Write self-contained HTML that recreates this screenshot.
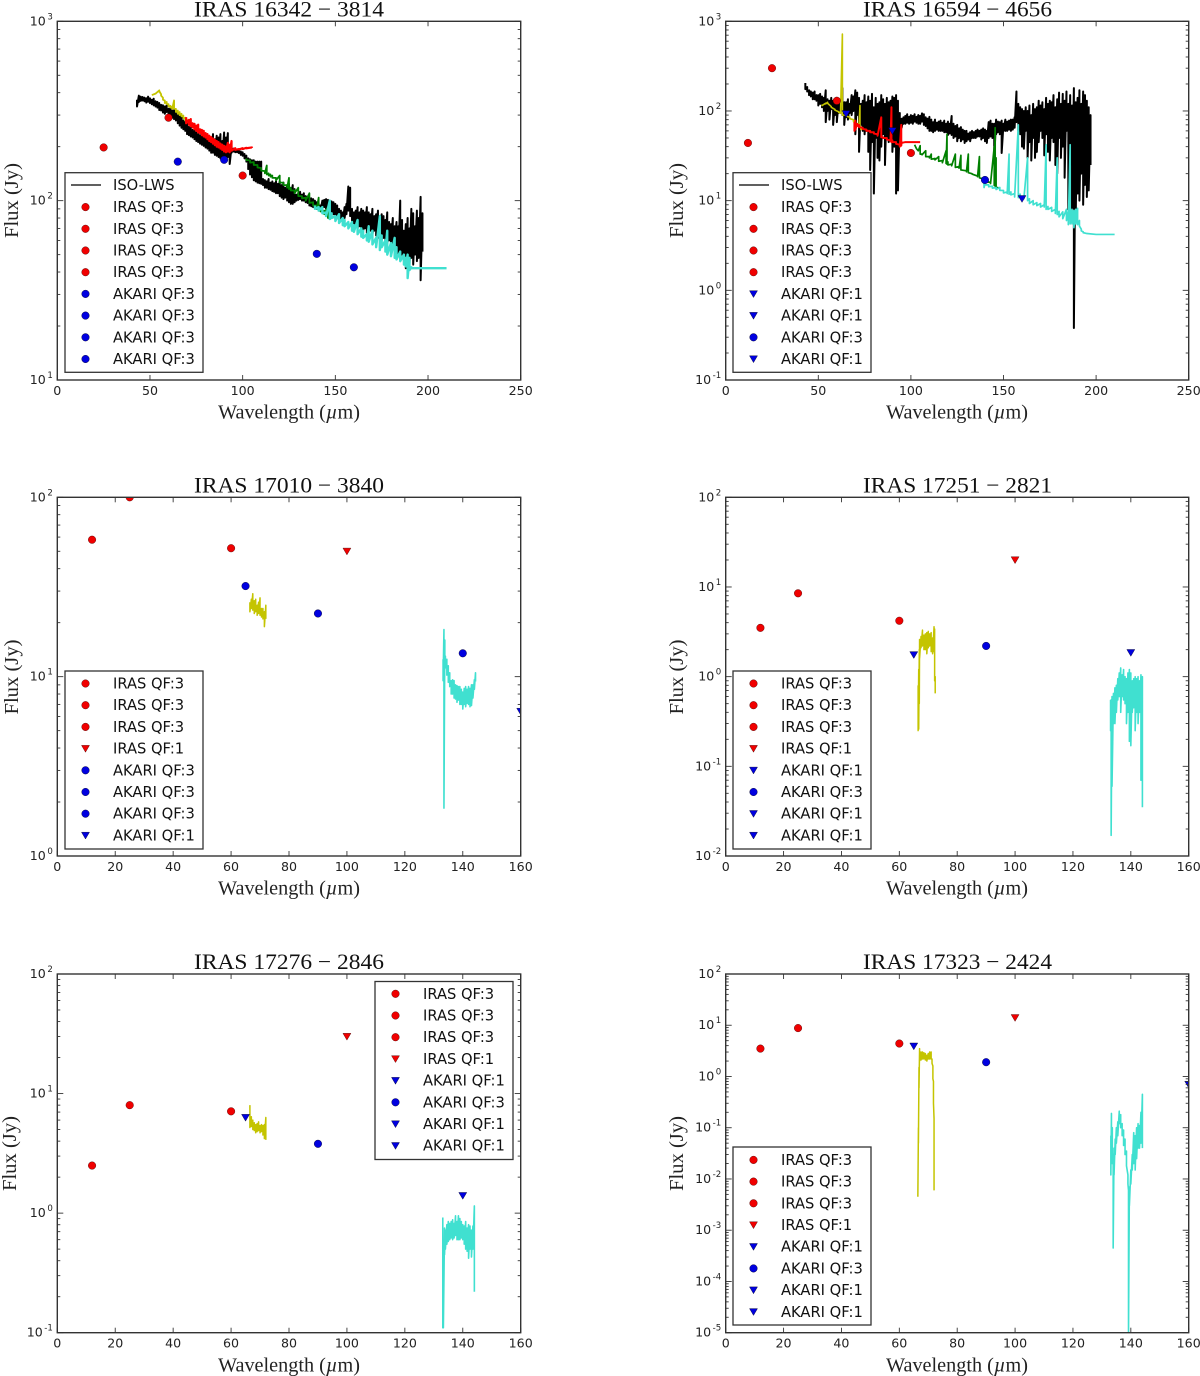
<!DOCTYPE html>
<html lang="en">
<head>
<meta charset="utf-8">
<title>IRAS far-infrared spectra</title>
<style>
html,body{margin:0;padding:0;background:#fff;}
svg{display:block;}
.title{font-family:"Liberation Serif",serif;font-size:22px;fill:#111;text-anchor:middle;}
.axis-title{font-family:"Liberation Serif",serif;font-size:19.5px;fill:#222;text-anchor:middle;}
.tick-label{font-family:"DejaVu Sans",sans-serif;font-size:12.6px;fill:#222;}
.legend-text{font-family:"DejaVu Sans",sans-serif;font-size:14.7px;fill:#111;}
.legend-box{fill:#fff;stroke:#333;stroke-width:1.3;}
.frame{fill:none;stroke:#333;stroke-width:1.4;}
.red{fill:#f00000;stroke:#400;stroke-width:.4;}
.blue{fill:#0000e0;stroke:#002;stroke-width:.4;}
</style>
</head>
<body>
<svg id="figure" xmlns="http://www.w3.org/2000/svg" width="1200" height="1376" viewBox="0 0 1200 1376">
<defs>
<clipPath id="clip-p1"><rect x="57.3" y="21.3" width="463.4" height="358.7"/></clipPath>
<clipPath id="clip-p2"><rect x="725.7" y="21.3" width="463" height="358.7"/></clipPath>
<clipPath id="clip-p3"><rect x="57.3" y="497.3" width="463.4" height="358.7"/></clipPath>
<clipPath id="clip-p4"><rect x="725.7" y="497.3" width="463" height="358.7"/></clipPath>
<clipPath id="clip-p5"><rect x="57.3" y="974" width="463.4" height="358.7"/></clipPath>
<clipPath id="clip-p6"><rect x="725.7" y="974" width="463" height="358.7"/></clipPath>
</defs>

<!-- PANEL 1 -->
<g id="p1">
<g id="p1-plot" clip-path="url(#clip-p1)"></g>
<rect class="frame" x="57.3" y="21.3" width="463.4" height="358.7"/>
<g id="p1-axes"></g>
<text class="title" x="289" y="16.5" textLength="190" lengthAdjust="spacingAndGlyphs">IRAS 16342 − 3814</text>
<text class="axis-title" x="289" y="418.5" textLength="142" lengthAdjust="spacingAndGlyphs">Wavelength (<tspan font-style="italic">µ</tspan>m)</text>
<text class="axis-title" transform="translate(18,200.5) rotate(-90)" textLength="75" lengthAdjust="spacingAndGlyphs">Flux (Jy)</text>
<g transform="translate(65,172.7)">
<rect class="legend-box" x="0" y="0" width="138" height="199.6"/>
<g transform="translate(0,12.3)"><line x1="6" x2="36" y1="0" y2="0" stroke="#000" stroke-width="1.2"/><text class="legend-text" x="48" y="5">ISO-LWS</text></g>
<g transform="translate(0,34.4)"><circle class="red" cx="20.5" cy="0" r="3.8"/><text class="legend-text" x="48" y="5">IRAS QF:3</text></g>
<g transform="translate(0,56.1)"><circle class="red" cx="20.5" cy="0" r="3.8"/><text class="legend-text" x="48" y="5">IRAS QF:3</text></g>
<g transform="translate(0,77.8)"><circle class="red" cx="20.5" cy="0" r="3.8"/><text class="legend-text" x="48" y="5">IRAS QF:3</text></g>
<g transform="translate(0,99.5)"><circle class="red" cx="20.5" cy="0" r="3.8"/><text class="legend-text" x="48" y="5">IRAS QF:3</text></g>
<g transform="translate(0,121.2)"><circle class="blue" cx="20.5" cy="0" r="3.8"/><text class="legend-text" x="48" y="5">AKARI QF:3</text></g>
<g transform="translate(0,142.9)"><circle class="blue" cx="20.5" cy="0" r="3.8"/><text class="legend-text" x="48" y="5">AKARI QF:3</text></g>
<g transform="translate(0,164.6)"><circle class="blue" cx="20.5" cy="0" r="3.8"/><text class="legend-text" x="48" y="5">AKARI QF:3</text></g>
<g transform="translate(0,186.3)"><circle class="blue" cx="20.5" cy="0" r="3.8"/><text class="legend-text" x="48" y="5">AKARI QF:3</text></g>
</g>
</g>

<!-- PANEL 2 -->
<g id="p2">
<g id="p2-plot" clip-path="url(#clip-p2)"></g>
<rect class="frame" x="725.7" y="21.3" width="463" height="358.7"/>
<g id="p2-axes"></g>
<text class="title" x="957.5" y="16.5" textLength="189" lengthAdjust="spacingAndGlyphs">IRAS 16594 − 4656</text>
<text class="axis-title" x="957" y="418.5" textLength="142" lengthAdjust="spacingAndGlyphs">Wavelength (<tspan font-style="italic">µ</tspan>m)</text>
<text class="axis-title" transform="translate(683,200.5) rotate(-90)" textLength="75" lengthAdjust="spacingAndGlyphs">Flux (Jy)</text>
<g transform="translate(733,172.7)">
<rect class="legend-box" x="0" y="0" width="138" height="199.6"/>
<g transform="translate(0,12.3)"><line x1="6" x2="36" y1="0" y2="0" stroke="#000" stroke-width="1.2"/><text class="legend-text" x="48" y="5">ISO-LWS</text></g>
<g transform="translate(0,34.4)"><circle class="red" cx="20.5" cy="0" r="3.8"/><text class="legend-text" x="48" y="5">IRAS QF:3</text></g>
<g transform="translate(0,56.1)"><circle class="red" cx="20.5" cy="0" r="3.8"/><text class="legend-text" x="48" y="5">IRAS QF:3</text></g>
<g transform="translate(0,77.8)"><circle class="red" cx="20.5" cy="0" r="3.8"/><text class="legend-text" x="48" y="5">IRAS QF:3</text></g>
<g transform="translate(0,99.5)"><circle class="red" cx="20.5" cy="0" r="3.8"/><text class="legend-text" x="48" y="5">IRAS QF:3</text></g>
<g transform="translate(0,121.2)"><polygon class="blue" points="16.5,-3.2 24.5,-3.2 20.5,3.6"/><text class="legend-text" x="48" y="5">AKARI QF:1</text></g>
<g transform="translate(0,142.9)"><polygon class="blue" points="16.5,-3.2 24.5,-3.2 20.5,3.6"/><text class="legend-text" x="48" y="5">AKARI QF:1</text></g>
<g transform="translate(0,164.6)"><circle class="blue" cx="20.5" cy="0" r="3.8"/><text class="legend-text" x="48" y="5">AKARI QF:3</text></g>
<g transform="translate(0,186.3)"><polygon class="blue" points="16.5,-3.2 24.5,-3.2 20.5,3.6"/><text class="legend-text" x="48" y="5">AKARI QF:1</text></g>
</g>
</g>

<!-- PANEL 3 -->
<g id="p3">
<g id="p3-plot" clip-path="url(#clip-p3)"></g>
<rect class="frame" x="57.3" y="497.3" width="463.4" height="358.7"/>
<g id="p3-axes"></g>
<text class="title" x="289" y="492.5" textLength="190" lengthAdjust="spacingAndGlyphs">IRAS 17010 − 3840</text>
<text class="axis-title" x="289" y="894.5" textLength="142" lengthAdjust="spacingAndGlyphs">Wavelength (<tspan font-style="italic">µ</tspan>m)</text>
<text class="axis-title" transform="translate(18,677) rotate(-90)" textLength="75" lengthAdjust="spacingAndGlyphs">Flux (Jy)</text>
<g transform="translate(65,671)">
<rect class="legend-box" x="0" y="0" width="138" height="178"/>
<g transform="translate(0,12.5)"><circle class="red" cx="20.5" cy="0" r="3.8"/><text class="legend-text" x="48" y="5">IRAS QF:3</text></g>
<g transform="translate(0,34.2)"><circle class="red" cx="20.5" cy="0" r="3.8"/><text class="legend-text" x="48" y="5">IRAS QF:3</text></g>
<g transform="translate(0,55.9)"><circle class="red" cx="20.5" cy="0" r="3.8"/><text class="legend-text" x="48" y="5">IRAS QF:3</text></g>
<g transform="translate(0,77.6)"><polygon class="red" points="16.5,-3.2 24.5,-3.2 20.5,3.6"/><text class="legend-text" x="48" y="5">IRAS QF:1</text></g>
<g transform="translate(0,99.3)"><circle class="blue" cx="20.5" cy="0" r="3.8"/><text class="legend-text" x="48" y="5">AKARI QF:3</text></g>
<g transform="translate(0,121)"><circle class="blue" cx="20.5" cy="0" r="3.8"/><text class="legend-text" x="48" y="5">AKARI QF:3</text></g>
<g transform="translate(0,142.7)"><circle class="blue" cx="20.5" cy="0" r="3.8"/><text class="legend-text" x="48" y="5">AKARI QF:3</text></g>
<g transform="translate(0,164.4)"><polygon class="blue" points="16.5,-3.2 24.5,-3.2 20.5,3.6"/><text class="legend-text" x="48" y="5">AKARI QF:1</text></g>
</g>
</g>

<!-- PANEL 4 -->
<g id="p4">
<g id="p4-plot" clip-path="url(#clip-p4)"></g>
<rect class="frame" x="725.7" y="497.3" width="463" height="358.7"/>
<g id="p4-axes"></g>
<text class="title" x="957.5" y="492.5" textLength="189" lengthAdjust="spacingAndGlyphs">IRAS 17251 − 2821</text>
<text class="axis-title" x="957" y="894.5" textLength="142" lengthAdjust="spacingAndGlyphs">Wavelength (<tspan font-style="italic">µ</tspan>m)</text>
<text class="axis-title" transform="translate(683,677) rotate(-90)" textLength="75" lengthAdjust="spacingAndGlyphs">Flux (Jy)</text>
<g transform="translate(733,671)">
<rect class="legend-box" x="0" y="0" width="138" height="178"/>
<g transform="translate(0,12.5)"><circle class="red" cx="20.5" cy="0" r="3.8"/><text class="legend-text" x="48" y="5">IRAS QF:3</text></g>
<g transform="translate(0,34.2)"><circle class="red" cx="20.5" cy="0" r="3.8"/><text class="legend-text" x="48" y="5">IRAS QF:3</text></g>
<g transform="translate(0,55.9)"><circle class="red" cx="20.5" cy="0" r="3.8"/><text class="legend-text" x="48" y="5">IRAS QF:3</text></g>
<g transform="translate(0,77.6)"><polygon class="red" points="16.5,-3.2 24.5,-3.2 20.5,3.6"/><text class="legend-text" x="48" y="5">IRAS QF:1</text></g>
<g transform="translate(0,99.3)"><polygon class="blue" points="16.5,-3.2 24.5,-3.2 20.5,3.6"/><text class="legend-text" x="48" y="5">AKARI QF:1</text></g>
<g transform="translate(0,121)"><circle class="blue" cx="20.5" cy="0" r="3.8"/><text class="legend-text" x="48" y="5">AKARI QF:3</text></g>
<g transform="translate(0,142.7)"><polygon class="blue" points="16.5,-3.2 24.5,-3.2 20.5,3.6"/><text class="legend-text" x="48" y="5">AKARI QF:1</text></g>
<g transform="translate(0,164.4)"><polygon class="blue" points="16.5,-3.2 24.5,-3.2 20.5,3.6"/><text class="legend-text" x="48" y="5">AKARI QF:1</text></g>
</g>
</g>

<!-- PANEL 5 -->
<g id="p5">
<g id="p5-plot" clip-path="url(#clip-p5)"></g>
<rect class="frame" x="57.3" y="974" width="463.4" height="358.7"/>
<g id="p5-axes"></g>
<text class="title" x="289" y="969" textLength="190" lengthAdjust="spacingAndGlyphs">IRAS 17276 − 2846</text>
<text class="axis-title" x="289" y="1371.5" textLength="142" lengthAdjust="spacingAndGlyphs">Wavelength (<tspan font-style="italic">µ</tspan>m)</text>
<text class="axis-title" transform="translate(16,1153.5) rotate(-90)" textLength="75" lengthAdjust="spacingAndGlyphs">Flux (Jy)</text>
<g transform="translate(375,981.5)">
<rect class="legend-box" x="0" y="0" width="138" height="178"/>
<g transform="translate(0,12.3)"><circle class="red" cx="20.5" cy="0" r="3.8"/><text class="legend-text" x="48" y="5">IRAS QF:3</text></g>
<g transform="translate(0,34)"><circle class="red" cx="20.5" cy="0" r="3.8"/><text class="legend-text" x="48" y="5">IRAS QF:3</text></g>
<g transform="translate(0,55.7)"><circle class="red" cx="20.5" cy="0" r="3.8"/><text class="legend-text" x="48" y="5">IRAS QF:3</text></g>
<g transform="translate(0,77.4)"><polygon class="red" points="16.5,-3.2 24.5,-3.2 20.5,3.6"/><text class="legend-text" x="48" y="5">IRAS QF:1</text></g>
<g transform="translate(0,99.1)"><polygon class="blue" points="16.5,-3.2 24.5,-3.2 20.5,3.6"/><text class="legend-text" x="48" y="5">AKARI QF:1</text></g>
<g transform="translate(0,120.8)"><circle class="blue" cx="20.5" cy="0" r="3.8"/><text class="legend-text" x="48" y="5">AKARI QF:3</text></g>
<g transform="translate(0,142.5)"><polygon class="blue" points="16.5,-3.2 24.5,-3.2 20.5,3.6"/><text class="legend-text" x="48" y="5">AKARI QF:1</text></g>
<g transform="translate(0,164.2)"><polygon class="blue" points="16.5,-3.2 24.5,-3.2 20.5,3.6"/><text class="legend-text" x="48" y="5">AKARI QF:1</text></g>
</g>
</g>

<!-- PANEL 6 -->
<g id="p6">
<g id="p6-plot" clip-path="url(#clip-p6)"></g>
<rect class="frame" x="725.7" y="974" width="463" height="358.7"/>
<g id="p6-axes"></g>
<text class="title" x="957.5" y="969" textLength="189" lengthAdjust="spacingAndGlyphs">IRAS 17323 − 2424</text>
<text class="axis-title" x="957" y="1371.5" textLength="142" lengthAdjust="spacingAndGlyphs">Wavelength (<tspan font-style="italic">µ</tspan>m)</text>
<text class="axis-title" transform="translate(683,1153.5) rotate(-90)" textLength="75" lengthAdjust="spacingAndGlyphs">Flux (Jy)</text>
<g transform="translate(733,1147)">
<rect class="legend-box" x="0" y="0" width="138" height="178"/>
<g transform="translate(0,12.9)"><circle class="red" cx="20.5" cy="0" r="3.8"/><text class="legend-text" x="48" y="5">IRAS QF:3</text></g>
<g transform="translate(0,34.6)"><circle class="red" cx="20.5" cy="0" r="3.8"/><text class="legend-text" x="48" y="5">IRAS QF:3</text></g>
<g transform="translate(0,56.3)"><circle class="red" cx="20.5" cy="0" r="3.8"/><text class="legend-text" x="48" y="5">IRAS QF:3</text></g>
<g transform="translate(0,78)"><polygon class="red" points="16.5,-3.2 24.5,-3.2 20.5,3.6"/><text class="legend-text" x="48" y="5">IRAS QF:1</text></g>
<g transform="translate(0,99.7)"><polygon class="blue" points="16.5,-3.2 24.5,-3.2 20.5,3.6"/><text class="legend-text" x="48" y="5">AKARI QF:1</text></g>
<g transform="translate(0,121.4)"><circle class="blue" cx="20.5" cy="0" r="3.8"/><text class="legend-text" x="48" y="5">AKARI QF:3</text></g>
<g transform="translate(0,143.1)"><polygon class="blue" points="16.5,-3.2 24.5,-3.2 20.5,3.6"/><text class="legend-text" x="48" y="5">AKARI QF:1</text></g>
<g transform="translate(0,164.8)"><polygon class="blue" points="16.5,-3.2 24.5,-3.2 20.5,3.6"/><text class="legend-text" x="48" y="5">AKARI QF:1</text></g>
</g>
</g>
</svg>

<script>
// ---------- tick values ----------
const wideXTicks = [0, 50, 100, 150, 200, 250];
const narrowXTicks = [0, 20, 40, 60, 80, 100, 120, 140, 160];
const p1YExponents = [1, 2, 3];
const p2YExponents = [-1, 0, 1, 2, 3];
const p3YExponents = [0, 1, 2];
const p4YExponents = [-2, -1, 0, 1, 2];
const p5YExponents = [-1, 0, 1, 2];
const p6YExponents = [-5, -4, -3, -2, -1, 0, 1, 2];

// ---------- photometry (band, wavelength, flux, quality flag) ----------
const p1PhotBand = ['IRAS', 'IRAS', 'IRAS', 'AKARI', 'AKARI', 'AKARI', 'AKARI'];
const p1PhotWave = [25, 60, 100, 65, 90, 140, 160];
const p1PhotFlux = [198, 290, 138, 165, 169, 50.5, 42.5];
const p1PhotQF = [3, 3, 3, 3, 3, 3, 3];

const p2PhotBand = ['IRAS', 'IRAS', 'IRAS', 'IRAS', 'AKARI', 'AKARI', 'AKARI', 'AKARI'];
const p2PhotWave = [12, 25, 60, 100, 65, 90, 140, 160];
const p2PhotFlux = [44, 300, 130, 34, 93, 60, 17, 10.5];
const p2PhotQF = [3, 3, 3, 3, 1, 1, 3, 1];

const p3PhotBand = ['IRAS', 'IRAS', 'IRAS', 'IRAS', 'AKARI', 'AKARI', 'AKARI', 'AKARI'];
const p3PhotWave = [12, 25, 60, 100, 65, 90, 140, 160];
const p3PhotFlux = [58, 100, 52, 50, 32, 22.5, 13.5, 6.4];
const p3PhotQF = [3, 3, 3, 1, 3, 3, 3, 1];

const p4PhotBand = ['IRAS', 'IRAS', 'IRAS', 'IRAS', 'AKARI', 'AKARI', 'AKARI'];
const p4PhotWave = [12, 25, 60, 100, 65, 90, 140];
const p4PhotFlux = [3.5, 8.5, 4.2, 20, 1.75, 2.2, 1.85];
const p4PhotQF = [3, 3, 3, 1, 1, 3, 1];

const p5PhotBand = ['IRAS', 'IRAS', 'IRAS', 'IRAS', 'AKARI', 'AKARI', 'AKARI'];
const p5PhotWave = [12, 25, 60, 100, 65, 90, 140];
const p5PhotFlux = [2.5, 8, 7.1, 30, 6.3, 3.8, 1.4];
const p5PhotQF = [3, 3, 3, 1, 1, 3, 1];

const p6PhotBand = ['IRAS', 'IRAS', 'IRAS', 'IRAS', 'AKARI', 'AKARI', 'AKARI'];
const p6PhotWave = [12, 25, 60, 100, 65, 90, 160];
const p6PhotFlux = [3.5, 8.8, 4.4, 14, 3.9, 1.9, 0.7];
const p6PhotQF = [3, 3, 3, 1, 1, 3, 1];

// ---------- spectra: per-bin wavelength with upper and lower flux ----------
const isoWave = [
43,44,45,46,47,48,49,50,51,52,
53,54,55,56,57,58,59,60,61,62,
63,64,65,66,67,68,69,70,71,72,
73,74,75,76,77,78,79,80,81,82,
83,84,85,86,87,88,89,90,91,92,
93,94,95,96,97,98,99,100,101,102,
103,104,105,106,107,108,109,110,111,112,
113,114,115,116,117,118,119,120,121,122,
123,124,125,126,127,128,129,130,131,132,
133,134,135,136,137,138,139,140,141,142,
143,144,145,146,147,148,149,150,151,152,
153,154,155,156,157,158,159,160,161,162,
163,164,165,166,167,168,169,170,171,172,
173,174,175,176,177,178,179,180,181,182,
183,184,185,186,187,188,189,190,191,192,
193,194,195,196,197];

const p1IsoHi = [
365,385,380,378,375,372,380,372,365,370,
358,355,350,342,340,335,340,325,330,318,
320,310,305,300,300,280,275,270,258,255,
248,245,240,235,232,230,228,222,220,215,
225,235,220,230,225,235,215,240,225,238,
200,200,195,192,192,190,188,186,182,178,
172,170,168,168,165,165,165,165,132,130,
128,132,126,128,125,128,124,128,122,126,
118,122,124,118,122,116,108,110,112,108,
110,106,105,104,103,102,100,98,96,94,
100,101,102,101,100,99,98,96,94,90,
88,86,92,96,120,118,90,86,88,92,
86,90,88,86,92,86,84,90,82,84,
88,80,84,82,78,86,76,74,80,72,
76,72,100,78,68,74,80,70,90,85,
72,88,80,105,85];
const p1IsoLo = [
335,355,360,362,358,352,356,350,345,340,
335,330,320,318,310,305,312,300,295,290,
285,280,270,262,255,250,245,235,232,228,
225,220,215,212,208,205,202,198,195,190,
185,185,180,178,175,172,170,168,172,175,
160,185,188,186,186,184,180,178,172,165,
150,140,135,130,128,126,125,124,122,118,
118,116,115,113,112,110,110,106,104,102,
104,100,98,96,96,98,100,101,102,100,
100,98,97,94,93,92,91,90,88,88,
90,92,90,88,88,86,84,82,80,78,
78,76,80,84,88,82,72,72,72,70,
72,70,68,70,66,68,68,64,68,64,
62,64,60,62,60,58,60,58,54,56,
52,50,48,50,46,42,44,44,48,44,
50,46,48,36,52];

const p1YellowWave = [51,53,55,56,57,58,59,60,61,62,63,64,65,66,67,68,69,70,71,72,73];
const p1YellowHi = [388,395,412,392,375,362,355,345,338,335,362,325,318,312,305,298,290,283,275,270,262];
const p1YellowLo = [388,395,408,385,365,350,345,335,330,325,325,312,305,300,295,288,280,275,268,262,258];

const p1RedWave = [69.5,71,72,73,74,75,76,77,78,79,80,81,82,83,84,85,86,87,88,89,90,91,92,93,94,96,98,100,102,105];
const p1RedHi = [292,282,285,270,268,262,265,250,248,245,238,235,230,226,222,218,215,212,208,205,202,200,210,205,215,196,194,196,197,198];
const p1RedLo = [270,265,260,256,250,245,240,238,232,228,225,220,215,212,208,204,200,198,195,192,188,186,188,186,190,192,193,194,196,197];

const p1GreenWave = [102,104,106,108,110,112,113,114,115,116,118,120,122,124,125,126,128,130,132,134,136,138,140,141,142,144,146,147];
const p1GreenHi = [172,168,164,158,152,146,157,142,140,138,134,138,126,122,134,118,114,118,106,104,110,98,94,104,90,88,92,80];
const p1GreenLo = [168,163,158,153,147,142,140,138,136,134,130,126,122,118,116,114,110,106,103,100,97,94,90,89,87,84,80,78];

const p1CyanWave = [139,141,143,145,147,148,150,152,154,155,157,159,160,162,164,165,167,168,170,172,174,175,177,178,180,182,183,185,187,188,189,190,191,195,200,205,210];
const p1CyanHi = [94,92,92,86,100,85,82,84,80,78,76,76,73,78,70,68,65,72,68,62,82,64,60,68,58,62,55,52,50,48,50,48,42.5,42,42,42,42];
const p1CyanLo = [90,88,85,82,79,80,77,75,73,72,70,68,67,65,63,62,60,59,57,55,53,55,52,50,49,48,47,46,44,43,37,41,42,42,42,42,42];

const p2IsoHi = [
205,185,170,165,160,165,150,150,155,145,
140,170,135,130,140,130,125,140,130,135,
180,125,125,135,120,150,145,170,160,140,
120,130,150,125,145,130,155,110,140,120,
125,150,135,120,140,125,130,145,140,150,
130,95,82,85,88,92,86,90,88,92,
86,90,88,94,92,85,82,86,80,75,
80,74,76,78,74,78,72,76,72,88,
72,68,70,64,66,62,60,60,56,58,
60,58,60,62,60,62,64,62,60,75,
78,72,72,80,76,75,78,72,80,76,
78,80,80,85,165,120,110,105,100,110,
100,115,90,120,105,110,130,115,125,105,
140,120,130,125,150,110,135,160,120,155,
130,165,120,150,115,180,125,140,170,120,
165,150,130,110,90];
const p2IsoLo = [
175,165,150,145,135,135,130,115,120,110,
100,75,100,80,105,70,90,75,95,100,
90,70,85,80,95,90,100,55,90,35,
70,60,55,60,35,22,45,12,50,30,
28,40,55,25,50,45,60,35,40,12,
13,45,65,72,72,74,72,74,72,76,
74,72,72,76,70,68,64,60,60,58,
60,62,60,60,60,58,58,54,56,54,
50,52,46,50,46,48,44,46,48,46,
50,50,50,52,52,48,50,46,44,50,
52,50,30,55,58,55,34,60,60,60,
62,60,62,65,75,60,55,40,38,60,
30,45,28,50,30,35,45,60,50,32,
55,35,28,50,45,25,20,50,30,40,
18,60,8,25,8,0.38,7,12,10,20,
9,15,11,13,25];

const p2YellowWave = [52,54,55,57,59,61,62,63,65,67,69,70,71,72,72.5,73,74];
const p2YellowHi = [118,122,125,112,104,98,96,720,90,85,80,76,72,72,115,66,64];
const p2YellowLo = [115,120,122,110,102,96,94,90,88,82,76,72,70,68,68,62,62];

const p2RedWave = [69.5,70,71,72,74,76,78,80,82,84,85,87,89,89.5,90,92,94,94.8,95,97,100,103,105];
const p2RedHi = [75,78,72,70,65,62,60,58,55,85,51,50,47,110,47,45,42,70,45,45,45,45,45];
const p2RedLo = [60,62,68,66,63,60,58,56,53,51,50,48,46,45,45,43,40,41,44,45,45,45,45];

const p2GreenWave = [102,103,104,105,106,108,110,111,113,115,117,119,119.5,120,122,124,126,127,130,131,133,136,137,139,141,143,145,145.5,146,147];
const p2GreenHi = [42,38,36,41,33,36,31,33,29.5,31,28,36,55,27,25.5,33,24,32,21.5,33,20,18.8,31,17.5,16.5,16,40,65,30,14];
const p2GreenLo = [42,38,36,33,32.5,31,30,29,28.5,27.5,26.5,26,25.5,25,24.5,23.5,23,22,21,20.5,19.8,18.5,18,17,16.2,15.5,14.8,14.5,14,13.5];

const p2CyanWave = [139,139.5,140,142,144,146,148,150,152,153,154,156,158,159,161,163,164,166,168,170,172,173,174,176,178,179,180,182,184,185,186,187,188,189,190,191,192,193,195,200,205,210];
const p2CyanHi = [17,16,15.5,15,14.5,14,14,13,12.5,33,12.5,12,70,11.8,11,30,10.5,10,9.5,9.3,9,42,8.6,8.4,8,30,7.6,7.5,8,7.5,42,8,7.8,8,8.2,6,4.8,4.5,4.3,4.2,4.2,4.2];
const p2CyanLo = [16,14,15,14.3,13.8,13.3,13,12.2,12,11.8,11.6,11,10.8,10.8,10.5,10,9.3,9,8.8,8.5,8.5,8,8,7.6,7.2,7,6.6,6.3,6,5.4,5.5,5.5,5,5.5,5.4,5.2,4.6,4.4,4.3,4.2,4.2,4.2];

const p3YellowWave = [66.5,67,67.5,68,68.5,69,69.5,70,70.5,71,71.5,72];
const p3YellowHi = [26,27,29,26.5,27,25,26,27.5,24,24,23,25];
const p3YellowLo = [23,24,23.5,22.5,23,22,22.5,22,21.5,21,19,21];
const p3CyanWave = [133.2,133.5,133.8,134,134.5,135,135.5,136,136.5,137,137.5,138,138.5,139,139.5,140,140.5,141,141.5,142,142.5,143,143.5,144,144.4];
const p3CyanHi = [12.5,18.3,16,13,12.5,11.5,10.5,9.5,9.6,9.5,9,8.9,8.8,8.8,8.5,8.2,8.6,8.8,8.5,8.8,8.6,9,9,9.6,10.5];
const p3CyanLo = [9.5,1.85,11,11.2,10.2,9.3,8.8,8,8,7.6,7.5,7.2,7.4,7,7,6.6,7,6.8,7.1,7,6.8,6.9,7.6,8.5,9.4];

const p4YellowWave = [66.5,66.7,66.9,67,67.5,68,68.5,69,69.5,70,70.5,71,71.5,72,72.2,72.4];
const p4YellowHi = [0.8,1.2,2,2.6,2.8,3.3,2.9,3,3.1,3.2,3,3.1,2.7,3.6,3.4,1];
const p4YellowLo = [0.25,0.26,0.5,1.6,2.1,2.2,2,2,1.8,2.1,2.2,1.9,1.8,1.9,0.9,0.65];
const p4CyanWave = [133,133.2,133.5,134,134.5,135,135.5,136,136.5,137,137.5,138,138.5,139,139.5,140,140.5,141,141.5,142,142.5,143,143.5,144];
const p4CyanHi = [0.55,0.55,0.6,0.65,0.75,0.8,0.95,1.1,1.25,1.05,1.2,1,0.95,1.1,1.2,1.1,0.9,0.95,1,0.95,1,0.9,1.05,1];
const p4CyanLo = [0.25,0.017,0.06,0.3,0.3,0.4,0.55,0.6,0.4,0.6,0.55,0.5,0.3,0.4,0.19,0.17,0.4,0.45,0.25,0.4,0.3,0.4,0.07,0.035];

const p5YellowWave = [66.5,67,67.5,68,68.5,69,69.5,70,70.5,71,71.5,72];
const p5YellowHi = [8,6.4,6,5.7,5.5,5.6,5.8,5.4,5.5,5.4,5.5,6.3];
const p5YellowLo = [5.2,5.3,5,4.9,4.7,4.8,4.9,4.7,4.8,4.5,4.2,4.1];
const p5CyanWave = [133.1,133.3,133.7,134,134.5,135,135.5,136,136.5,137,137.5,138,138.5,139,139.5,140,140.5,141,141.5,142,142.5,143,143.5,144];
const p5CyanHi = [0.92,0.3,0.75,0.72,0.8,0.85,0.82,0.85,0.88,0.82,0.95,0.85,0.95,0.9,0.85,0.8,0.78,0.85,0.75,0.8,0.78,0.72,0.78,1.15];
const p5CyanLo = [0.11,0.11,0.45,0.5,0.55,0.58,0.6,0.62,0.6,0.62,0.65,0.6,0.6,0.6,0.62,0.6,0.55,0.5,0.48,0.42,0.5,0.43,0.5,0.22];

const p6YellowWave = [66.4,66.6,66.8,67,67.5,68,68.5,69,69.5,70,70.5,71,71.3,71.6,71.8,72];
const p6YellowHi = [0.0045,0.1,1.5,3.5,3,3,2.9,2.8,2.6,2.8,3,3,2.2,1.6,0.8,0.15];
const p6YellowLo = [0.0045,0.05,0.6,2,2.1,2.2,2.2,2.1,2,2.2,2.2,2.2,1.8,0.9,0.3,0.006];
const p6CyanWave = [133.1,133.3,133.6,133.9,134.2,134.6,135,135.5,136,136.5,137,137.5,138,138.5,139,139.2,139.5,140,140.5,141,141.5,142,142.5,143,143.5,144];
const p6CyanHi = [0.07,0.19,0.1,0.03,0.04,0.06,0.1,0.13,0.21,0.18,0.12,0.09,0.06,0.035,0.012,0.006,0.007,0.015,0.03,0.08,0.07,0.1,0.12,0.11,0.2,0.45];
const p6CyanLo = [0.012,0.03,0.02,0.00045,0.012,0.03,0.05,0.07,0.12,0.1,0.07,0.045,0.03,0.018,0.008,0.00001,0.003,0.008,0.015,0.02,0.015,0.025,0.04,0.04,0.05,0.04];

const YELLOW = '#c4c400';
const RED = '#ff0000';
const GREEN = '#008000';
const CYAN = '#40e0d0';
const BLACK = '#000000';

const NS = 'http://www.w3.org/2000/svg';

function make(tag, attrs) {
  const node = document.createElementNS(NS, tag);
  Object.keys(attrs).forEach(function (key) { node.setAttribute(key, attrs[key]); });
  return node;
}

function drawSpectrum(layer, sx, sy, wave, hi, lo, color, width, name) {
  let d = '';
  for (let i = 0; i < wave.length; i++) {
    const x = sx(wave[i]).toFixed(2);
    d += (i === 0 ? 'M' : 'L') + x + ' ' + sy(hi[i]).toFixed(2);
    d += 'L' + x + ' ' + sy(lo[i]).toFixed(2);
  }
  const path = make('path', { d: d, fill: 'none', stroke: color, 'stroke-width': width, 'stroke-linejoin': 'round' });
  
  
  layer.appendChild(path);
}

function drawPhotometry(layer, sx, sy, band, wave, flux, qf) {
  for (let i = 0; i < wave.length; i++) {
    const x = sx(wave[i]);
    const y = sy(flux[i]);
    const cls = band[i] === 'IRAS' ? 'red' : 'blue';
    let mark;
    if (qf[i] === 3) {
      mark = make('circle', { cx: x, cy: y, r: 3.8, class: cls });
    } else {
      mark = make('polygon', { points: (x - 4) + ',' + (y - 3.2) + ' ' + (x + 4) + ',' + (y - 3.2) + ' ' + x + ',' + (y + 3.6), class: cls });
    }
    
    
    layer.appendChild(mark);
  }
}

function tick(layer, x1, y1, x2, y2) {
  const t = make('line', { x1: x1, y1: y1, x2: x2, y2: y2, stroke: '#333', 'stroke-width': 0.9 });
  
  
  layer.appendChild(t);
}

function drawAxes(layer, box, sx, sy, xTicks, yExps) {
  const bottom = box.top + box.height;
  const right = box.left + box.width;
  xTicks.forEach(function (v) {
    const x = sx(v);
    tick(layer, x, bottom, x, bottom - 5);
    tick(layer, x, box.top, x, box.top + 5);
    const label = make('text', { x: x, y: bottom + 15, class: 'tick-label', 'text-anchor': 'middle' });
    label.textContent = String(v);
    
    
    layer.appendChild(label);
  });
  yExps.forEach(function (exp, idx) {
    const y = sy(Math.pow(10, exp));
    tick(layer, box.left, y, box.left + 6, y);
    tick(layer, right, y, right - 6, y);
    const label = make('text', { x: box.left - 4.5, y: y + 4, class: 'tick-label', 'text-anchor': 'end' });
    label.appendChild(document.createTextNode('10'));
    const sup = make('tspan', { dy: -6, dx: 1.5, 'font-size': 8.6 });
    sup.textContent = String(exp);
    label.appendChild(sup);
    
    
    layer.appendChild(label);
    if (idx < yExps.length - 1) {
      for (let m = 2; m < 10; m++) {
        const ym = sy(m * Math.pow(10, exp));
        tick(layer, box.left, ym, box.left + 3, ym);
        tick(layer, right, ym, right - 3, ym);
      }
    }
  });
}

function drawPanel(id, box, xMax, xTicks, yExps, spectra, band, wave, flux, qf) {
  const logMin = yExps[0];
  const logMax = yExps[yExps.length - 1];
  const sx = function (v) { return box.left + v / xMax * box.width; };
  const sy = function (v) { return box.top + (logMax - Math.log10(v)) / (logMax - logMin) * box.height; };
  const plot = document.getElementById(id + '-plot');
  spectra.forEach(function (s) {
    drawSpectrum(plot, sx, sy, s[0], s[1], s[2], s[3], s[4], s[5]);
  });
  drawPhotometry(plot, sx, sy, band, wave, flux, qf);
  drawAxes(document.getElementById(id + '-axes'), box, sx, sy, xTicks, yExps);
}

drawPanel('p1', { left: 57.3, top: 21.3, width: 463.4, height: 358.7 }, 250, wideXTicks, p1YExponents, [
  [isoWave, p1IsoHi, p1IsoLo, BLACK, 2, 'iso-lws-spectrum'],
  [p1YellowWave, p1YellowHi, p1YellowLo, YELLOW, 1.8, 'pacs-blue-spectrum'],
  [p1RedWave, p1RedHi, p1RedLo, RED, 2.2, 'pacs-red-spectrum'],
  [p1GreenWave, p1GreenHi, p1GreenLo, GREEN, 1.8, 'pacs-green-spectrum'],
  [p1CyanWave, p1CyanHi, p1CyanLo, CYAN, 2.4, 'pacs-cyan-spectrum']
], p1PhotBand, p1PhotWave, p1PhotFlux, p1PhotQF);

drawPanel('p2', { left: 725.7, top: 21.3, width: 463, height: 358.7 }, 250, wideXTicks, p2YExponents, [
  [isoWave, p2IsoHi, p2IsoLo, BLACK, 2, 'iso-lws-spectrum'],
  [p2YellowWave, p2YellowHi, p2YellowLo, YELLOW, 1.6, 'pacs-blue-spectrum'],
  [p2RedWave, p2RedHi, p2RedLo, RED, 2, 'pacs-red-spectrum'],
  [p2GreenWave, p2GreenHi, p2GreenLo, GREEN, 1.7, 'pacs-green-spectrum'],
  [p2CyanWave, p2CyanHi, p2CyanLo, CYAN, 1.7, 'pacs-cyan-spectrum']
], p2PhotBand, p2PhotWave, p2PhotFlux, p2PhotQF);

drawPanel('p3', { left: 57.3, top: 497.3, width: 463.4, height: 358.7 }, 160, narrowXTicks, p3YExponents, [
  [p3YellowWave, p3YellowHi, p3YellowLo, YELLOW, 1.5, 'pacs-blue-spectrum'],
  [p3CyanWave, p3CyanHi, p3CyanLo, CYAN, 1.6, 'pacs-cyan-spectrum']
], p3PhotBand, p3PhotWave, p3PhotFlux, p3PhotQF);

drawPanel('p4', { left: 725.7, top: 497.3, width: 463, height: 358.7 }, 160, narrowXTicks, p4YExponents, [
  [p4YellowWave, p4YellowHi, p4YellowLo, YELLOW, 1.5, 'pacs-blue-spectrum'],
  [p4CyanWave, p4CyanHi, p4CyanLo, CYAN, 1.6, 'pacs-cyan-spectrum']
], p4PhotBand, p4PhotWave, p4PhotFlux, p4PhotQF);

drawPanel('p5', { left: 57.3, top: 974, width: 463.4, height: 358.7 }, 160, narrowXTicks, p5YExponents, [
  [p5YellowWave, p5YellowHi, p5YellowLo, YELLOW, 1.5, 'pacs-blue-spectrum'],
  [p5CyanWave, p5CyanHi, p5CyanLo, CYAN, 1.6, 'pacs-cyan-spectrum']
], p5PhotBand, p5PhotWave, p5PhotFlux, p5PhotQF);

drawPanel('p6', { left: 725.7, top: 974, width: 463, height: 358.7 }, 160, narrowXTicks, p6YExponents, [
  [p6YellowWave, p6YellowHi, p6YellowLo, YELLOW, 1.5, 'pacs-blue-spectrum'],
  [p6CyanWave, p6CyanHi, p6CyanLo, CYAN, 1.6, 'pacs-cyan-spectrum']
], p6PhotBand, p6PhotWave, p6PhotFlux, p6PhotQF);
</script>
</body>
</html>
